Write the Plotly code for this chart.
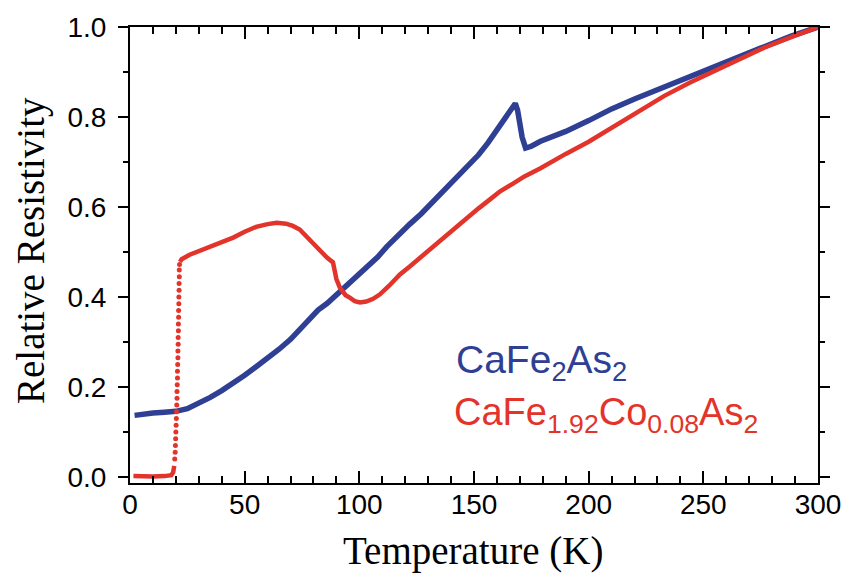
import plotly.graph_objects as go

# ---- data ----
blue_T = [2, 5, 10, 15, 20, 25, 30, 35, 40, 45, 50, 55, 60, 65, 70, 74, 78, 80, 82, 86, 90, 95,
          100, 103, 108, 112, 117, 122, 127, 132, 137, 142, 147, 152, 156, 160, 164, 166, 168,
          169, 170, 171, 172.5, 175, 179, 183, 190, 200, 210, 220, 230, 240, 250, 260, 266,
          275, 288, 295, 300]
blue_R = [0.137, 0.140, 0.142, 0.144, 0.146, 0.152, 0.163, 0.177, 0.192, 0.208, 0.226, 0.245,
          0.264, 0.284, 0.306, 0.327, 0.352, 0.362, 0.371, 0.386, 0.405, 0.426, 0.449, 0.464,
          0.489, 0.512, 0.539, 0.562, 0.585, 0.611, 0.634, 0.660, 0.688, 0.716, 0.742, 0.770,
          0.800, 0.815, 0.830, 0.815, 0.785, 0.755, 0.731, 0.735, 0.746, 0.754, 0.768, 0.792,
          0.818, 0.840, 0.861, 0.881, 0.902, 0.922, 0.935, 0.953, 0.979, 0.990, 1.0]

red_low_T = [1.5, 5, 10, 15, 18, 18.8, 19.3]
red_low_R = [0.002, 0.001, 0.001, 0.002, 0.004, 0.010, 0.025]

red_jump_T = [19.5, 19.7, 19.8, 19.9, 20.0, 20.1, 20.2, 20.3, 20.4, 20.5, 20.5, 20.6, 20.7, 20.7,
              20.8, 20.9, 20.9, 21.0, 21.0, 21.1, 21.1, 21.2, 21.2, 21.3, 21.3, 21.4, 21.4, 21.5,
              21.5, 21.6]
red_jump_R = [0.04, 0.055, 0.07, 0.085, 0.10, 0.115, 0.13, 0.145, 0.16, 0.175, 0.19, 0.205,
              0.22, 0.235, 0.25, 0.265, 0.28, 0.295, 0.31, 0.325, 0.34, 0.355, 0.37, 0.385,
              0.40, 0.415, 0.43, 0.445, 0.46, 0.472]

red_high_T = [21.8, 22.5, 26, 30, 35, 40, 45, 50, 55, 60, 64, 68, 71, 74, 77, 80, 83, 86, 88.5,
              89, 90, 91.5, 94, 96, 98, 100.3, 103, 106, 109, 113, 117.7, 122, 127, 132, 137,
              142, 147, 152, 157, 161.4, 167, 172, 179, 183, 190, 200, 210, 222, 233, 244, 255,
              266, 277, 288, 295, 300]
red_high_R = [0.478, 0.484, 0.494, 0.502, 0.512, 0.522, 0.532, 0.545, 0.556, 0.562, 0.565,
              0.563, 0.558, 0.550, 0.534, 0.517, 0.502, 0.487, 0.477, 0.462, 0.440, 0.421,
              0.404, 0.398, 0.391, 0.388, 0.390, 0.396, 0.406, 0.425, 0.450, 0.468, 0.490,
              0.512, 0.534, 0.555, 0.576, 0.597, 0.617, 0.635, 0.652, 0.668, 0.686, 0.698,
              0.718, 0.745, 0.776, 0.815, 0.847, 0.876, 0.903, 0.930, 0.955, 0.977, 0.990, 1.0]

x_ticks = [0, 50, 100, 150, 200, 250, 300]
y_ticks = [0.0, 0.2, 0.4, 0.6, 0.8, 1.0]

BLUE = "#2E3F94"
RED = "#E3342B"

fig = go.Figure()
fig.add_trace(go.Scatter(x=blue_T, y=blue_R, mode="lines",
                         line=dict(color=BLUE, width=5.5), name="CaFe2As2"))
fig.add_trace(go.Scatter(x=red_low_T, y=red_low_R, mode="lines",
                         line=dict(color=RED, width=4.5), name="Co low"))
fig.add_trace(go.Scatter(x=red_jump_T, y=red_jump_R, mode="markers",
                         marker=dict(color=RED, size=5), name="Co jump"))
fig.add_trace(go.Scatter(x=red_high_T, y=red_high_R, mode="lines",
                         line=dict(color=RED, width=4.5), name="Co high"))

W, H = 858, 578
L, T_ = 130, 25
pw, ph = 688, 458
R_ = W - L - pw
B_ = H - T_ - ph


def px(x):
    return (x - L) / pw


def py(y):
    return (T_ + ph - y) / ph


tickfont = dict(family="Liberation Sans, Arial, sans-serif", size=28, color="black")
fig.update_layout(
    width=W, height=H,
    margin=dict(l=L, r=R_, t=T_, b=B_),
    plot_bgcolor="white", paper_bgcolor="white",
    showlegend=False,
    xaxis=dict(range=[0, 300], tickvals=x_ticks, ticks="inside", ticklen=12, tickwidth=2,
               tickcolor="black", showline=True, linewidth=2, linecolor="black",
               mirror="ticks", showgrid=False, zeroline=False, tickfont=tickfont,
               ticklabelstandoff=-5, ticklabeloverflow="allow",
               minor=dict(tick0=0, dtick=10, ticks="inside", ticklen=7, tickwidth=2,
                          tickcolor="black", showgrid=False)),
    yaxis=dict(range=[-0.0133, 1.0], tickvals=y_ticks, tickformat=".1f", ticks="outside",
               ticklen=10, tickwidth=2, tickcolor="black", showline=True, linewidth=2,
               linecolor="black", mirror="ticks", showgrid=False, zeroline=False,
               tickfont=tickfont, ticklabelstandoff=6, ticklabeloverflow="allow",
               minor=dict(tick0=0, dtick=0.1, ticks="outside", ticklen=5, tickwidth=2,
                          tickcolor="black", showgrid=False)),
)

serif = dict(family="Liberation Serif, Times New Roman, serif", size=39, color="black")
fig.add_annotation(text="Temperature (K)", xref="paper", yref="paper", x=px(473), y=py(551),
                   xanchor="center", yanchor="middle", showarrow=False, font=serif)
fig.add_annotation(text="Relative Resistivity", xref="paper", yref="paper", x=px(31), y=py(250),
                   xanchor="center", yanchor="middle", textangle=-90, showarrow=False, font=serif)

legfont = "Liberation Sans, Arial, sans-serif"
fig.add_annotation(text="CaFe<sub>2</sub>As<sub>2</sub>", xref="paper", yref="paper",
                   x=px(454), y=py(362), xanchor="left", yanchor="middle", showarrow=False,
                   font=dict(family=legfont, size=39, color=BLUE))
fig.add_annotation(text="CaFe<sub>1.92</sub>Co<sub>0.08</sub>As<sub>2</sub>", xref="paper",
                   yref="paper", x=px(452), y=py(415), xanchor="left", yanchor="middle",
                   showarrow=False, font=dict(family=legfont, size=38, color=RED))

# remove the default page margin so the figure sits at the window's top-left corner
fig.write_html("out.html",
               config={"displayModeBar": False},
               post_script="document.body.style.margin='0';"
                           "document.body.style.overflow='hidden';")
